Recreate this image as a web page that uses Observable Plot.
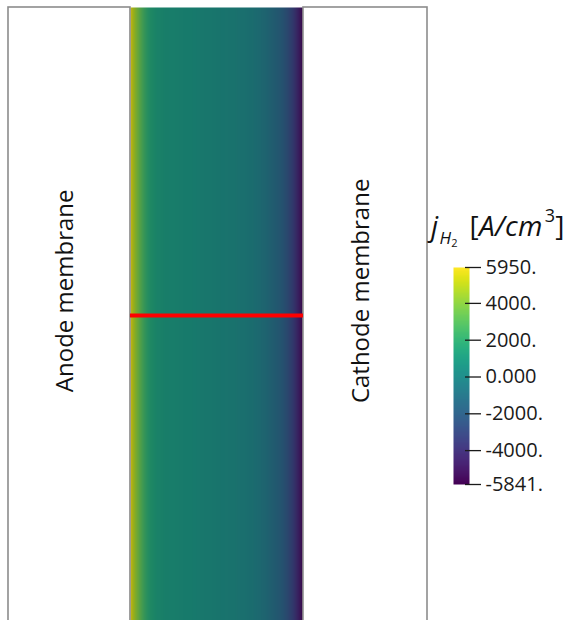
<!DOCTYPE html>
<html>
<head>
<meta charset="utf-8">
<script src="https://cdn.jsdelivr.net/npm/d3@7"></script>
<script src="https://cdn.jsdelivr.net/npm/@observablehq/plot@0.6"></script>
<style>
  html, body { margin: 0; padding: 0; background: #fff; }
  #chart { position: relative; width: 573px; height: 620px; overflow: hidden; font-family: "Open Sans", sans-serif; }
  #chart svg { position: absolute; left: 0; top: 0; }
  #title { position: absolute; left: 431px; top: 211px; font-size: 28px; color: #111; white-space: nowrap; line-height: 1; letter-spacing: 0.3px; }
  #title i { font-style: italic; }
  #title .sub { font-size: 17px; position: relative; top: 8px; margin-left: 1px; margin-right: 4px; }
  #title .sub2 { font-size: 11px; position: relative; top: 3px; }
  #title sup { font-size: 18px; position: relative; top: -4px; vertical-align: super; line-height: 0; margin-left: 2px; }
</style>
</head>
<body>
<div id="chart">
  <div id="title"><i>j</i><span class="sub"><i>H</i><span class="sub2">2</span></span> [<i>A/cm</i><sup>3</sup>]</div>
</div>
<script>
// Hydrogen current density across the layer between the two membranes
// (position u runs from the anode side, 0, to the cathode side, 1)
const positions = [0.000, 0.006, 0.015, 0.030, 0.045, 0.058, 0.075, 0.087, 0.100, 0.116,
                   0.140, 0.170, 0.210, 0.260, 0.330, 0.400, 0.480, 0.580, 0.650, 0.690,
                   0.740, 0.780, 0.810, 0.840, 0.870, 0.900, 0.920, 0.940, 0.965, 0.985, 1.000];
const currentDensity = [5950, 5600, 5000, 4300, 3700, 3200, 2600, 2250, 1900, 1550,
                        1280, 1070, 910, 790, 660, 520, 370, 170, -30, -180,
                        -420, -770, -1050, -1360, -1750, -2300, -2800, -3300, -4300, -5100, -5841];

// Colour bar
const colorDomain = [-5841, 5950];
const tickValues = [5950, 4000, 2000, 0, -2000, -4000, -5841];
const tickLabels = ["5950.", "4000.", "2000.", "0.000", "-2000.", "-4000.", "-5841."];

// Membranes on either side of the layer
const membraneNames = ["Anode membrane", "Cathode membrane"];
const membraneBounds = [[-0.705, 0], [1, 1.717]];

// Field table: each profile sample at both ends of the channel
const field = positions.flatMap((u, i) => [
  {u, y: 0, j: currentDensity[i]},
  {u, y: 2, j: currentDensity[i]}
]);
const membranes = membraneNames.map((name, i) => ({
  name, x1: membraneBounds[i][0], x2: membraneBounds[i][1]
}));

// Surface shading of the rendered slice darkens the viridis map slightly
const shaded = t => d3.rgb(d3.interpolateViridis(t)).darker(0.7).formatHex();

const main = Plot.plot({
  width: 573,
  height: 620,
  margin: 0,
  style: {background: "white", fontFamily: "Open Sans, sans-serif"},
  x: {domain: [-0.705, 1.717], range: [8, 427], axis: null},
  y: {domain: [0, 2], range: [623, 7], axis: null},
  color: {type: "linear", domain: colorDomain, interpolate: shaded},
  marks: [
    Plot.raster(field, {
      x: "u", y: "y", fill: "j",
      interpolate: "barycentric",
      x1: 0, x2: 1, y1: 0, y2: 2
    }),
    Plot.rect(membranes, {
      x1: "x1", x2: "x2", y1: 0, y2: 2,
      fill: "white", stroke: "#8c8c8c", strokeWidth: 1.6
    }),
    Plot.ruleY([1], {x1: 0, x2: 1, stroke: "#ff0000", strokeWidth: 4}),
    Plot.text(membranes, {
      x: d => (d.x1 + d.x2) / 2, y: 1.08,
      text: "name", rotate: -90,
      fontSize: 24, fill: "#111",
      dx: -4,
      textAnchor: "middle", lineAnchor: "middle"
    })
  ]
});

const bar = Plot.plot({
  width: 573,
  height: 620,
  marginLeft: 453,
  marginRight: 109,
  marginTop: 267,
  marginBottom: 136,
  style: {background: "transparent", fontFamily: "Open Sans, sans-serif", color: "#1a1a1a"},
  x: {domain: [0, 1], range: [453, 469], axis: null},
  y: {domain: colorDomain, axis: null},
  color: {type: "linear", domain: colorDomain, scheme: "viridis"},
  marks: [
    Plot.raster({fill: (x, y) => y, x1: 0, x2: 1, y1: colorDomain[0], y2: colorDomain[1]}),
    Plot.axisY(tickValues, {
      anchor: "right",
      tickSize: 16,
      tickPadding: 5,
      tickFormat: d => tickLabels[tickValues.indexOf(d)],
      fontSize: 20,
      strokeWidth: 1.3
    })
  ]
});

const chart = document.getElementById("chart");
chart.insertBefore(bar, chart.firstChild);
chart.insertBefore(main, chart.firstChild);
</script>
</body>
</html>
